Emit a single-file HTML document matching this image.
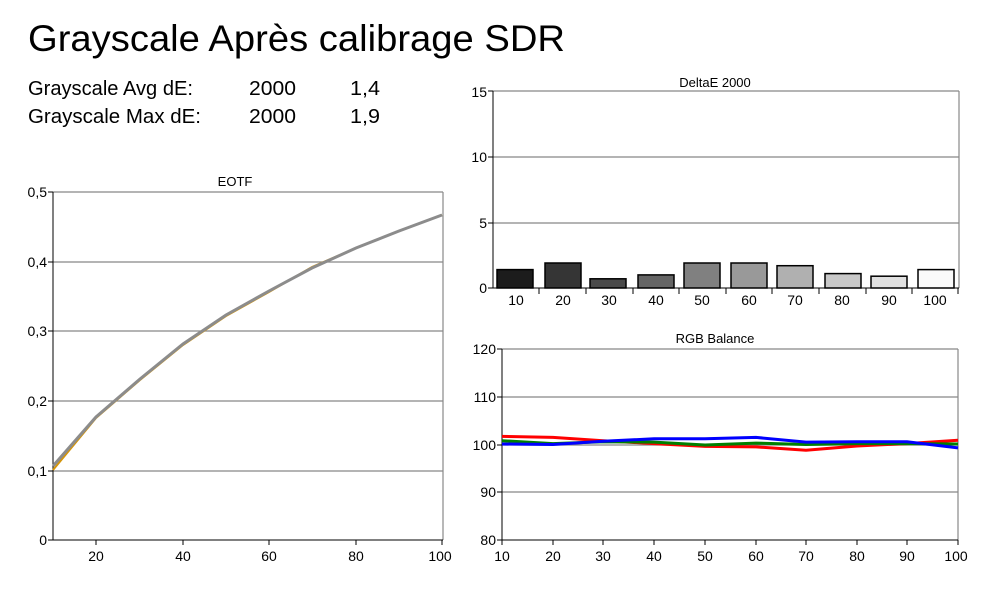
<!DOCTYPE html>
<html><head><meta charset="utf-8"><style>
html,body{margin:0;padding:0;background:#fff;}
svg{display:block;font-family:"Liberation Sans",sans-serif;}
</style></head><body>
<svg width="1004" height="599" viewBox="0 0 1004 599" xmlns="http://www.w3.org/2000/svg">
<defs>
<linearGradient id="g" x1="0" y1="0" x2="0" y2="1">
<stop offset="0" stop-color="#fff" stop-opacity="0"/>
<stop offset="1" stop-color="#fff" stop-opacity="0.25"/>
</linearGradient>
</defs>
<text x="28" y="51" font-size="37" textLength="537" lengthAdjust="spacingAndGlyphs">Grayscale Après calibrage SDR</text>
<g font-size="20">
<text x="28" y="95" textLength="165" lengthAdjust="spacingAndGlyphs">Grayscale Avg dE:</text>
<text x="249" y="95" textLength="47" lengthAdjust="spacingAndGlyphs">2000</text>
<text x="350" y="95" textLength="30" lengthAdjust="spacingAndGlyphs">1,4</text>
<text x="28" y="123" textLength="173" lengthAdjust="spacingAndGlyphs">Grayscale Max dE:</text>
<text x="249" y="123" textLength="47" lengthAdjust="spacingAndGlyphs">2000</text>
<text x="350" y="123" textLength="30" lengthAdjust="spacingAndGlyphs">1,9</text>
</g>

<!-- EOTF -->
<text x="235" y="186" font-size="13" text-anchor="middle">EOTF</text>
<g stroke="#888" stroke-width="1.2">
<line x1="53" y1="192" x2="443" y2="192"/>
<line x1="53" y1="262" x2="443" y2="262"/>
<line x1="53" y1="331" x2="443" y2="331"/>
<line x1="53" y1="401" x2="443" y2="401"/>
<line x1="53" y1="471" x2="443" y2="471"/>
<line x1="443" y1="192" x2="443" y2="540"/>
</g>
<g stroke="#000" stroke-width="1">
<line x1="53" y1="192" x2="53" y2="540"/>
<line x1="53" y1="540" x2="443" y2="540"/>
<line x1="48" y1="192" x2="53" y2="192"/><line x1="48" y1="262" x2="53" y2="262"/>
<line x1="48" y1="331" x2="53" y2="331"/><line x1="48" y1="401" x2="53" y2="401"/>
<line x1="48" y1="471" x2="53" y2="471"/><line x1="48" y1="540" x2="53" y2="540"/>
<line x1="96" y1="540" x2="96" y2="545"/><line x1="183" y1="540" x2="183" y2="545"/>
<line x1="269" y1="540" x2="269" y2="545"/><line x1="356" y1="540" x2="356" y2="545"/>
<line x1="442" y1="540" x2="442" y2="545"/>
</g>
<g font-size="14" text-anchor="end">
<text x="47" y="197">0,5</text><text x="47" y="267">0,4</text><text x="47" y="336">0,3</text>
<text x="47" y="406">0,2</text><text x="47" y="476">0,1</text><text x="47" y="545">0</text>
</g>
<g font-size="14" text-anchor="middle">
<text x="96" y="561">20</text><text x="183" y="561">40</text><text x="269" y="561">60</text>
<text x="356" y="561">80</text><text x="440" y="561">100</text>
</g>
<polyline fill="none" stroke="#d4950a" stroke-width="2" points="53,470 96,418 140,380 183,345 226,316 269,292 312,267 356,248 399,231 442,215"/>
<polyline fill="none" stroke="#8c8c8c" stroke-width="3" points="53,466 96,417 140,379 183,344 226,315 269,291 312,268 356,248 399,231 442,215"/>

<!-- DeltaE -->
<text x="715" y="87" font-size="13" text-anchor="middle">DeltaE 2000</text>
<g stroke="#888" stroke-width="1.2">
<line x1="493" y1="91" x2="959" y2="91"/>
<line x1="493" y1="157" x2="959" y2="157"/>
<line x1="493" y1="223" x2="959" y2="223"/>
<line x1="959" y1="91" x2="959" y2="288"/>
</g>
<g stroke="#000" stroke-width="1">
<line x1="493" y1="91" x2="493" y2="288"/>
<line x1="493" y1="288" x2="959" y2="288"/>
<line x1="488" y1="91" x2="493" y2="91"/><line x1="488" y1="157" x2="493" y2="157"/>
<line x1="488" y1="223" x2="493" y2="223"/><line x1="488" y1="288" x2="493" y2="288"/>
</g>
<g font-size="14" text-anchor="end">
<text x="487" y="97">15</text><text x="487" y="162">10</text><text x="487" y="228">5</text><text x="487" y="293">0</text>
</g>
<g stroke="#000" stroke-width="1.5">
<rect x="497" y="269.6" width="36" height="18.4" fill="#1c1c1c"/>
<rect x="545" y="263" width="36" height="25" fill="#353535"/>
<rect x="590" y="278.8" width="36" height="9.2" fill="#4a4a4a"/>
<rect x="638" y="274.9" width="36" height="13.1" fill="#656565"/>
<rect x="684" y="263" width="36" height="25" fill="#808080"/>
<rect x="731" y="263" width="36" height="25" fill="#999"/>
<rect x="777" y="265.7" width="36" height="22.3" fill="#b0b0b0"/>
<rect x="825" y="273.6" width="36" height="14.4" fill="#c8c8c8"/>
<rect x="871" y="276.2" width="36" height="11.8" fill="#e0e0e0"/>
<rect x="918" y="269.6" width="36" height="18.4" fill="#fafafa"/>
</g>
<g stroke="#000" stroke-width="1">
<line x1="539" y1="288" x2="539" y2="294"/><line x1="586" y1="288" x2="586" y2="294"/>
<line x1="633" y1="288" x2="633" y2="294"/><line x1="679" y1="288" x2="679" y2="294"/>
<line x1="726" y1="288" x2="726" y2="294"/><line x1="772" y1="288" x2="772" y2="294"/>
<line x1="819" y1="288" x2="819" y2="294"/><line x1="866" y1="288" x2="866" y2="294"/>
<line x1="912" y1="288" x2="912" y2="294"/><line x1="958" y1="288" x2="958" y2="294"/>
</g>
<g font-size="14" text-anchor="middle">
<text x="516" y="305">10</text><text x="563" y="305">20</text><text x="609" y="305">30</text>
<text x="656" y="305">40</text><text x="702" y="305">50</text><text x="749" y="305">60</text>
<text x="795" y="305">70</text><text x="842" y="305">80</text><text x="889" y="305">90</text>
<text x="935" y="305">100</text>
</g>

<!-- RGB -->
<text x="715" y="343" font-size="13" text-anchor="middle">RGB Balance</text>
<g stroke="#888" stroke-width="1.2">
<line x1="502" y1="349" x2="958" y2="349"/>
<line x1="502" y1="397" x2="958" y2="397"/>
<line x1="502" y1="445" x2="958" y2="445"/>
<line x1="502" y1="492" x2="958" y2="492"/>
<line x1="958" y1="349" x2="958" y2="540"/>
</g>
<g stroke="#000" stroke-width="1">
<line x1="502" y1="349" x2="502" y2="540"/>
<line x1="502" y1="540" x2="958" y2="540"/>
<line x1="497" y1="349" x2="502" y2="349"/><line x1="497" y1="397" x2="502" y2="397"/>
<line x1="497" y1="445" x2="502" y2="445"/><line x1="497" y1="492" x2="502" y2="492"/>
<line x1="497" y1="540" x2="502" y2="540"/>
<line x1="502" y1="540" x2="502" y2="545"/><line x1="553" y1="540" x2="553" y2="545"/>
<line x1="603" y1="540" x2="603" y2="545"/><line x1="654" y1="540" x2="654" y2="545"/>
<line x1="705" y1="540" x2="705" y2="545"/><line x1="756" y1="540" x2="756" y2="545"/>
<line x1="806" y1="540" x2="806" y2="545"/><line x1="857" y1="540" x2="857" y2="545"/>
<line x1="907" y1="540" x2="907" y2="545"/><line x1="958" y1="540" x2="958" y2="545"/>
</g>
<g font-size="14" text-anchor="end">
<text x="496" y="354">120</text><text x="496" y="402">110</text><text x="496" y="450">100</text>
<text x="496" y="497">90</text><text x="496" y="545">80</text>
</g>
<g font-size="14" text-anchor="middle">
<text x="502" y="561">10</text><text x="553" y="561">20</text><text x="603" y="561">30</text>
<text x="654" y="561">40</text><text x="705" y="561">50</text><text x="756" y="561">60</text>
<text x="806" y="561">70</text><text x="857" y="561">80</text><text x="907" y="561">90</text>
<text x="956" y="561">100</text>
</g>
<polyline fill="none" stroke="#ff0000" stroke-width="3" points="502,436.4 553,437.4 603,440.7 654,443.6 705,446.4 756,446.9 806,450.2 857,446 907,443.6 958,440.2"/>
<polyline fill="none" stroke="#008000" stroke-width="3" points="502,440.7 553,443.6 603,441.7 654,442.1 705,445 756,443.1 806,444.5 857,443.6 907,443.6 958,444"/>
<polyline fill="none" stroke="#0000ff" stroke-width="3" points="502,444 553,444.5 603,441.2 654,438.8 705,438.8 756,437.4 806,442.1 857,441.7 907,441.7 958,447.9"/>
</svg>
</body></html>
